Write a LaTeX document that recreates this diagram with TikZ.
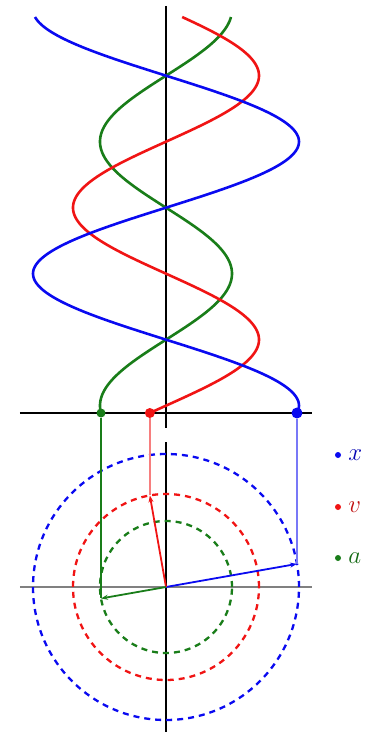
\documentclass[tikz,border=0pt]{standalone}
\usetikzlibrary{positioning,arrows.meta}
\definecolor{xblue}{RGB}{10,10,240}
\definecolor{vred}{RGB}{240,20,20}
\definecolor{agreen}{RGB}{25,125,25}
\begin{document}
\begin{tikzpicture}[x=1pt,y=1pt,
  wave/.style={line width=2.6pt,domain=0:540,samples=220,smooth},
  ring/.style={line width=2.3pt,dash pattern=on 6pt off 5pt},
  phasor/.style={line width=1.8pt,-{Stealth[length=7pt,width=5pt]}},
  proj/.style={line width=1.3pt},
  dot/.style={circle,fill,inner sep=0pt,minimum size=#1},
  key/.style={font=\Huge,inner sep=1pt}]
\useasboundingbox (-166,-145) rectangle (216,587);
\coordinate (O) at (0,0);
\coordinate (ax) at (0,174);
% axes
\draw[line width=2.2pt] (-146,174) -- (146,174);
\draw[line width=1.6pt] (0,581) -- (0,159);
\draw[line width=1.6pt] (0,145) -- (0,-145);
\draw[gray,line width=2.2pt] (-146,0) -- (146,0);
% waves
\draw[wave,agreen] plot({66*cos(190-\x)},{174+0.7333*\x});
\draw[wave,vred] plot({93*cos(100-\x)},{174+0.7333*\x});
\draw[wave,xblue] plot({133*cos(10-\x)},{174+0.7333*\x});
% circles
\draw[ring,xblue] (O) circle (133pt);
\draw[ring,vred] (O) circle (93pt);
\draw[ring,agreen] (O) circle (66pt);
% phasors
\coordinate (xtip) at (10:133);
\coordinate (vtip) at (100:93);
\coordinate (atip) at (190:66);
\node[dot=11pt,xblue] (xdot) at (xtip |- ax) {};
\node[dot=10pt,vred] (vdot) at (vtip |- ax) {};
\node[dot=9pt,agreen] (adot) at (atip |- ax) {};
\draw[proj,xblue!55] (xdot) -- (xtip);
\draw[proj,vred!55] (vdot) -- (vtip);
\draw[proj,agreen] (adot) -- (atip);
\draw[phasor,xblue] (O) -- (xtip);
\draw[phasor,vred] (O) -- (vtip);
\draw[phasor,agreen] (O) -- (atip);
% legend
\node[dot=6pt,xblue] (xkey) at (172,132) {};
\node[dot=6pt,vred] (vkey) at (172,80) {};
\node[dot=6pt,agreen] (akey) at (172,29) {};
\node[key,text=xblue!75!black,right=6pt of xkey] (xlab) {$x$};
\node[key,text=vred!80!black,right=6pt of vkey] (vlab) {$v$};
\node[key,text=agreen!85!black,right=6pt of akey] (alab) {$a$};
\end{tikzpicture}
\end{document}
